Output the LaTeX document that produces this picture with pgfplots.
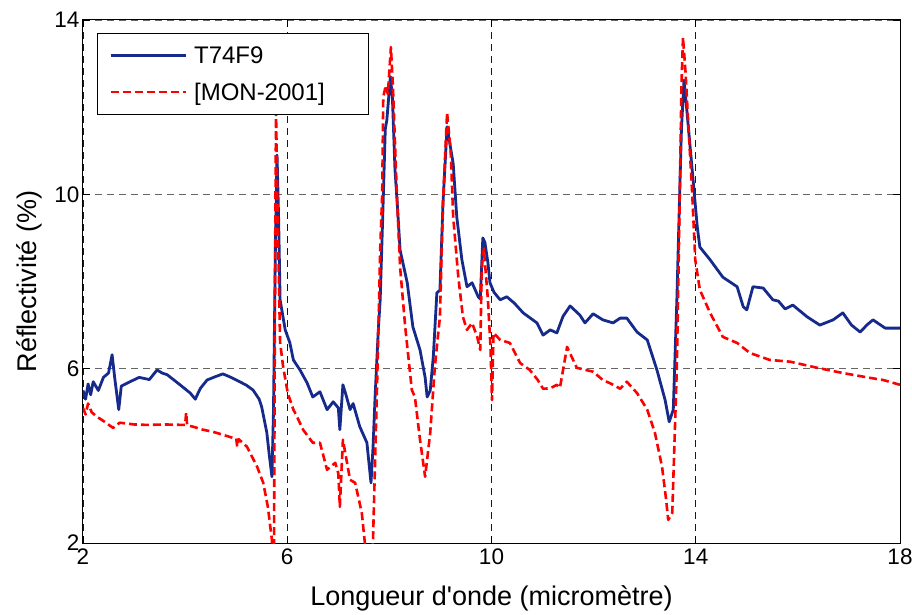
\documentclass[border=0pt]{standalone}
\usepackage{pgfplots}
\pgfplotsset{compat=1.18}
\usepackage{fontspec}
\setmainfont{Liberation Sans}
\definecolor{myblue}{RGB}{22,42,140}
\begin{document}
\begin{tikzpicture}
\begin{axis}[
  at={(0pt,0pt)}, anchor=south west,
  scale only axis, width=817pt, height=523pt,
  xmin=2, xmax=18, ymin=2, ymax=14,
  xtick={2,6,10,14,18}, ytick={2,6,10,14},
  tick align=inside, major tick length=7pt,
  axis line style={line width=1pt},
  tick style={line width=0.8pt, black},
  grid=major,
  x grid style={black!90, dash pattern=on 7pt off 5pt, line width=0.8pt},
  y grid style={black!60, dash pattern=on 7pt off 5pt, line width=0.9pt},
  /pgf/number format/assume math mode=true,
  tick label style={font=\fontsize{22.5}{24}\selectfont},
  xticklabel style={yshift=-2pt},
  xlabel={Longueur d\textquotesingle onde (micromètre)},
  ylabel={Réflectivité (\%)},
  every axis x label/.style={at={(axis description cs:0.5,-0.105)}, anchor=center, font=\fontsize{27}{30}\selectfont},
  every axis y label/.style={at={(axis description cs:-0.066,0.5)}, anchor=center, rotate=90, font=\fontsize{27}{30}\selectfont},
  legend style={at={(0.017,0.975)}, anchor=north west, draw=black, line width=0.8pt,
    font=\fontsize{24}{26}\selectfont, inner xsep=12pt, inner ysep=11pt, row sep=14pt,
    legend cell align=left,
    /tikz/every odd column/.append style={column sep=5pt}},
  legend image code/.code={\draw[#1] (0pt,0pt) -- (75pt,0pt);},
  clip=true,
]
\addplot[myblue, line width=2.8pt, line join=round] coordinates {
(2.0,5.5) (2.05,5.3) (2.1,5.65) (2.15,5.4) (2.2,5.7) (2.3,5.5) (2.4,5.8) (2.5,5.9) (2.57,6.32) (2.62,5.8) (2.7,5.06) (2.75,5.6) (2.92,5.7) (3.1,5.8) (3.3,5.75) (3.45,5.97) (3.55,5.9) (3.65,5.86) (3.9,5.63) (4.1,5.44) (4.2,5.3) (4.23,5.38) (4.3,5.55) (4.43,5.74) (4.6,5.82) (4.74,5.88) (4.9,5.8) (5.07,5.7) (5.2,5.62) (5.33,5.51) (5.45,5.3) (5.5,5.12) (5.6,4.53) (5.65,4.0) (5.7,3.52) (5.73,5.0) (5.77,9.0) (5.8,10.9) (5.83,9.5) (5.86,7.58) (5.96,6.89) (6.05,6.6) (6.12,6.2) (6.25,5.97) (6.39,5.67) (6.5,5.35) (6.64,5.47) (6.78,5.06) (6.9,5.24) (7.0,5.1) (7.03,4.6) (7.09,5.63) (7.15,5.4) (7.23,5.06) (7.29,5.2) (7.42,4.67) (7.56,4.3) (7.64,3.38) (7.68,4.2) (7.72,5.35) (7.78,6.82) (7.82,7.58) (7.87,9.5) (7.92,11.5) (7.95,11.7) (8.02,12.7) (8.06,12.2) (8.11,10.56) (8.15,9.87) (8.21,8.72) (8.35,7.97) (8.46,6.96) (8.6,6.43) (8.7,5.8) (8.74,5.35) (8.8,5.5) (8.86,6.27) (8.93,7.74) (8.99,7.8) (9.05,9.8) (9.13,11.55) (9.18,11.2) (9.25,10.7) (9.32,9.48) (9.42,8.5) (9.52,7.88) (9.62,7.97) (9.74,7.65) (9.78,7.6) (9.83,9.0) (9.87,8.9) (9.93,8.43) (9.97,7.97) (10.05,7.75) (10.17,7.58) (10.3,7.65) (10.45,7.5) (10.62,7.28) (10.89,7.05) (11.01,6.77) (11.15,6.89) (11.28,6.82) (11.4,7.2) (11.54,7.44) (11.73,7.23) (11.83,7.05) (11.99,7.26) (12.18,7.12) (12.38,7.05) (12.52,7.16) (12.65,7.16) (12.85,6.84) (13.05,6.66) (13.24,5.97) (13.4,5.28) (13.48,4.78) (13.56,5.06) (13.63,7.58) (13.68,9.8) (13.72,11.5) (13.77,12.62) (13.82,12.0) (13.93,10.56) (14.03,9.25) (14.08,8.79) (14.28,8.5) (14.53,8.1) (14.81,7.88) (14.93,7.42) (15.0,7.35) (15.12,7.88) (15.32,7.85) (15.51,7.58) (15.62,7.55) (15.75,7.37) (15.9,7.46) (16.18,7.19) (16.43,7.0) (16.69,7.12) (16.88,7.28) (17.05,7.0) (17.22,6.84) (17.35,7.0) (17.47,7.12) (17.71,6.93) (18,6.93)
};
\addlegendentry{T74F9}
\addplot[red, line width=2.6pt, dash pattern=on 8pt off 4pt, line join=round] coordinates {
(2.0,5.1) (2.05,4.95) (2.1,5.2) (2.17,5.0) (2.27,4.9) (2.4,4.8) (2.59,4.64) (2.65,4.7) (2.72,4.76) (3.0,4.72) (3.25,4.71) (3.6,4.72) (3.96,4.71) (4.0,4.71) (4.02,4.99) (4.04,4.7) (4.15,4.67) (4.35,4.6) (4.55,4.55) (4.75,4.48) (4.94,4.41) (5.0,4.4) (5.02,4.21) (5.05,4.38) (5.21,4.21) (5.41,3.75) (5.53,3.38) (5.62,2.83) (5.7,2.07) (5.72,1.5) (5.74,1.5) (5.76,8.0) (5.78,11.9) (5.82,9.0) (5.86,6.6) (5.92,6.04) (6.01,5.44) (6.12,5.06) (6.19,4.9) (6.31,4.6) (6.5,4.3) (6.64,4.3) (6.78,3.68) (6.94,3.84) (7.0,3.6) (7.03,2.83) (7.09,4.37) (7.23,3.45) (7.33,3.38) (7.46,2.69) (7.52,2.0) (7.55,1.5) (7.66,1.5) (7.68,2.07) (7.76,5.67) (7.82,8.72) (7.86,10.03) (7.88,12.23) (7.93,12.5) (7.97,12.3) (8.03,13.38) (8.07,12.46) (8.15,9.9) (8.21,8.33) (8.31,6.96) (8.44,5.51) (8.5,5.35) (8.6,4.37) (8.7,3.52) (8.8,4.53) (8.89,6.04) (8.95,6.73) (8.99,7.19) (9.05,9.8) (9.13,11.87) (9.2,11.0) (9.25,9.48) (9.35,8.1) (9.44,7.19) (9.52,6.89) (9.62,7.05) (9.72,6.73) (9.78,6.43) (9.81,8.33) (9.85,8.75) (9.93,7.58) (9.98,6.5) (10.01,5.28) (10.04,6.82) (10.17,6.66) (10.36,6.59) (10.56,6.13) (10.75,5.97) (10.9,5.75) (11.01,5.54) (11.15,5.55) (11.28,5.63) (11.34,5.56) (11.48,6.5) (11.67,6.02) (11.99,5.93) (12.18,5.74) (12.35,5.65) (12.52,5.54) (12.65,5.7) (12.85,5.44) (13.05,5.06) (13.2,4.53) (13.34,3.75) (13.42,2.99) (13.46,2.53) (13.54,2.69) (13.63,6.04) (13.68,9.48) (13.72,12.5) (13.75,13.6) (13.8,12.8) (13.85,11.7) (13.93,10.03) (13.99,8.5) (14.08,7.81) (14.28,7.28) (14.53,6.73) (14.81,6.59) (15.06,6.36) (15.45,6.2) (15.85,6.16) (16.38,6.02) (16.88,5.9) (17.41,5.79) (17.67,5.74) (18,5.63)
};
\addlegendentry{[MON-2001]\hspace{30pt}\mbox{}}
\end{axis}
\pgfresetboundingbox
\path[use as bounding box] (-83pt,-71pt) rectangle (829pt,543pt);
\end{tikzpicture}
\end{document}
